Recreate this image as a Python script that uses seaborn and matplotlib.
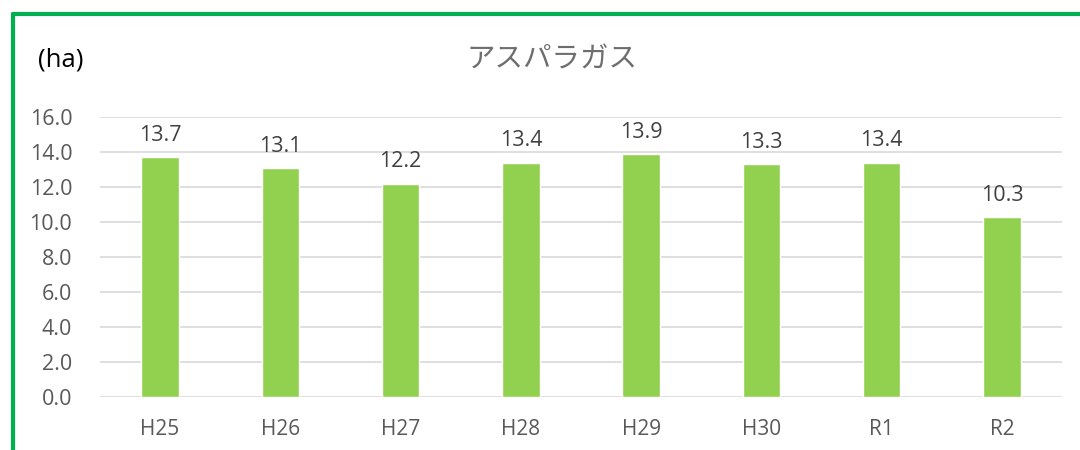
import matplotlib
matplotlib.use("Agg")
import matplotlib.pyplot as plt
import seaborn as sns
import pandas as pd
from matplotlib.lines import Line2D

# Data
years = ["H25", "H26", "H27", "H28", "H29", "H30", "R1", "R2"]
area_ha = [13.7, 13.1, 12.2, 13.4, 13.9, 13.3, 13.4, 10.3]
y_ticks = [0, 2, 4, 6, 8, 10, 12, 14, 16]

sns.set_theme(style="white")
plt.rcParams['font.family'] = ['Open Sans', 'Noto Sans CJK JP', 'DejaVu Sans']

def main():
    df = pd.DataFrame({"year": years, "area": area_ha})

    fig = plt.figure(figsize=(10.8, 4.5), dpi=100)
    ax = fig.add_axes([100 / 1080, 1 - 397 / 450, 962 / 1080, 280 / 450])

    sns.barplot(data=df, x="year", y="area", color="#92D050", width=0.31,
                saturation=1, ax=ax)

    ax.set_xlim(-0.5, len(years) - 0.5)
    ax.set_ylim(0, 16)
    ax.set_yticks(y_ticks)
    ax.set_yticklabels([f"{t:.1f}" for t in y_ticks])
    ax.set_xlabel("")
    ax.set_ylabel("")
    ax.yaxis.grid(True, color="#D9D9D9", linewidth=1.2)
    ax.set_axisbelow(True)
    sns.despine(ax=ax, left=True, top=True, right=True, bottom=True)
    ax.tick_params(axis="both", length=0, colors="#595959")
    ax.tick_params(axis="y", pad=20, labelsize=15.5)
    ax.tick_params(axis="x", pad=16, labelsize=15)

    # value labels
    for p, v in zip(ax.patches, area_ha):
        ax.annotate(f"{v:.1f}", (p.get_x() + p.get_width() / 2, v),
                    ha="center", va="bottom", xytext=(0, 8),
                    textcoords="offset points", fontsize=15.5, color="#404040")

    # title and unit
    fig.text(552 / 1080, 1 - 60 / 450, "アスパラガス", ha="center", va="center",
             fontsize=20.5, color="#6E6E6E", family=['Noto Sans CJK JP', 'DejaVu Sans'])
    fig.text(38 / 1080, 1 - 60 / 450, "(ha)", ha="left", va="center",
             fontsize=18.5, color="black")

    # green frame (top and left edges visible)
    fig.add_artist(Line2D([13 / 1080, 1.0], [1 - 14 / 450, 1 - 14 / 450],
                          transform=fig.transFigure, color="#00B050", linewidth=3))
    fig.add_artist(Line2D([13 / 1080, 13 / 1080], [0.0, 1 - 14 / 450],
                          transform=fig.transFigure, color="#00B050", linewidth=3))

    fig.savefig("out.png", dpi=100)
    plt.close(fig)

if __name__ == '__main__':
    main()
